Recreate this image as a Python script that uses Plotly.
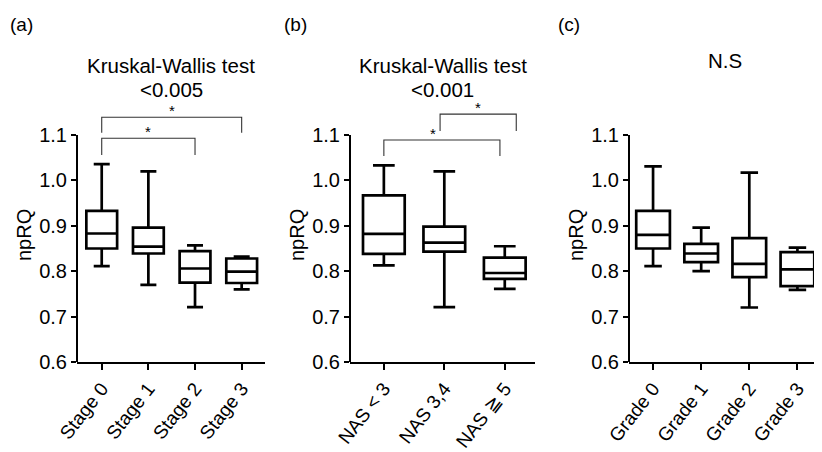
import plotly.graph_objects as go

# ---------------- data ----------------
stage_labels = ["Stage 0", "Stage 1", "Stage 2", "Stage 3"]
stage_min = [0.811, 0.770, 0.721, 0.760]
stage_q1 = [0.850, 0.839, 0.775, 0.774]
stage_med = [0.883, 0.854, 0.806, 0.799]
stage_q3 = [0.933, 0.896, 0.844, 0.828]
stage_max = [1.036, 1.020, 0.857, 0.832]

nas_labels = ["NAS < 3", "NAS 3,4", "NAS \u2267 5"]
nas_min = [0.813, 0.721, 0.761]
nas_q1 = [0.838, 0.843, 0.783]
nas_med = [0.882, 0.863, 0.796]
nas_q3 = [0.967, 0.898, 0.830]
nas_max = [1.033, 1.020, 0.855]

grade_labels = ["Grade 0", "Grade 1", "Grade 2", "Grade 3"]
grade_min = [0.811, 0.800, 0.720, 0.759]
grade_q1 = [0.850, 0.820, 0.787, 0.767]
grade_med = [0.880, 0.839, 0.816, 0.804]
grade_q3 = [0.933, 0.860, 0.873, 0.842]
grade_max = [1.031, 0.896, 1.017, 0.852]

panel_letters = ["(a)", "(b)", "(c)"]
panel_titles = [["Kruskal-Wallis test", "<0.005"], ["Kruskal-Wallis test", "<0.001"], ["N.S"]]

# significance brackets: (group A, group B, bracket height, bracket foot)
brackets_a = [("Stage 0", "Stage 3", 1.139, 1.105), ("Stage 0", "Stage 2", 1.093, 1.056)]
brackets_b = [("NAS < 3", "NAS \u2267 5", 1.089, 1.054), ("NAS 3,4", "NAS \u2267 5", 1.146, 1.109)]
brackets_c = []

y_ticks = [0.6, 0.7, 0.8, 0.9, 1.0, 1.1]

# ---------------- layout helpers ----------------
# the page body has an 8px margin, so the figure is drawn 8px smaller and
# reference pixel positions are shifted by that offset
OFF = 8
W, H = 822 - OFF, 452 - OFF
FONT = "Liberation Sans, Arial, Helvetica, sans-serif"

def px_x(p):
    return (p - OFF) / W

def px_y(p):
    return 1 - (p - OFF) / H

y_bottom_px = 362
px_per_unit = 454
y_top_val = 1.16
y_top_px = y_bottom_px - (y_top_val - 0.6) * px_per_unit

panels = [
    dict(labels=stage_labels, mn=stage_min, q1=stage_q1, med=stage_med, q3=stage_q3, mx=stage_max,
         dom=(77, 265), rng=[-0.53, 3.5], width=0.66, brackets=brackets_a, nudge={}),
    dict(labels=nas_labels, mn=nas_min, q1=nas_q1, med=nas_med, q3=nas_q3, mx=nas_max,
         dom=(350, 535), rng=[-0.56, 2.5], width=0.69, brackets=brackets_b,
         nudge={0: (0.0, -0.08, -0.14), 1: (-0.07, 0.19, 0.0)}),
    dict(labels=grade_labels, mn=grade_min, q1=grade_q1, med=grade_med, q3=grade_q3, mx=grade_max,
         dom=(629, 821), rng=[-0.5, 3.49], width=0.7, brackets=brackets_c, nudge={}),
]

fig = go.Figure()
layout = dict(
    width=W, height=H,
    margin=dict(l=0, r=0, t=0, b=0),
    paper_bgcolor="white", plot_bgcolor="white",
    showlegend=False,
    font=dict(family=FONT, size=18, color="black"),
)
annotations = []
shapes = []

for i, p in enumerate(panels):
    n = "" if i == 0 else str(i + 1)
    xa, ya = "x" + n, "y" + n
    pos = list(range(len(p["labels"])))
    fig.add_trace(go.Box(
        x=pos, q1=p["q1"], median=p["med"], q3=p["q3"],
        lowerfence=p["mn"], upperfence=p["mx"],
        xaxis=xa, yaxis=ya, width=p["width"], whiskerwidth=0.52,
        fillcolor="white", line=dict(color="black", width=2.7),
        boxpoints=False, hoverinfo="skip",
    ))
    # brackets
    for j, (ga, gb, top, foot) in enumerate(p["brackets"]):
        ia, ib = p["labels"].index(ga), p["labels"].index(gb)
        da, db, ds = p["nudge"].get(j, (0.0, 0.0, 0.0))
        xa0, xb0 = ia + da, ib + db
        fig.add_trace(go.Scatter(
            x=[xa0, xa0, xb0, xb0], y=[foot, top, top, foot],
            mode="lines", line=dict(color="#333333", width=1.1),
            xaxis=xa, yaxis=ya, hoverinfo="skip",
        ))
        annotations.append(dict(
            x=(xa0 + xb0) / 2 + ds, y=top, xref=xa, yref=ya, text="*",
            showarrow=False, yanchor="bottom", yshift=-4,
            font=dict(size=15, family=FONT, color="black"),
        ))
    x0, x1 = p["dom"]
    layout["xaxis" + n] = dict(
        domain=[px_x(x0), px_x(x1)], range=p["rng"], anchor=ya,
        tickvals=pos, ticktext=p["labels"], automargin=False,
        showline=True, linecolor="black", linewidth=2,
        ticks="outside", ticklen=6, tickwidth=2, tickcolor="black",
        tickangle=-52, showgrid=False, zeroline=False,
        tickfont=dict(size=19, family=FONT, color="black"),
        fixedrange=True,
    )
    layout["yaxis" + n] = dict(
        domain=[px_y(y_bottom_px), px_y(y_top_px)], range=[0.6, y_top_val], anchor=xa,
        showline=False, ticks="outside", ticklen=5, tickwidth=2, tickcolor="black",
        tickvals=y_ticks, ticktext=["%.1f" % v for v in y_ticks], automargin=False,
        showgrid=False, zeroline=False,
        tickfont=dict(size=20, family=FONT, color="black"),
        title=dict(text="npRQ", font=dict(size=20, family=FONT, color="black"), standoff=2),
        fixedrange=True,
    )
    # left axis line from 0.6 to 1.1 only
    shapes.append(dict(type="line", xref=xa + " domain", yref=ya, x0=0, x1=0,
                       y0=y_ticks[0], y1=y_ticks[-1], line=dict(color="black", width=2)))
    # titles (one annotation per line)
    line_y = [65, 89] if len(panel_titles[i]) > 1 else [60]
    for txt, ty in zip(panel_titles[i], line_y):
        annotations.append(dict(
            x=0.5, y=px_y(ty), xref=xa + " domain", yref="paper",
            text=txt, showarrow=False, xanchor="center", yanchor="middle",
            font=dict(size=20.5, family=FONT, color="black"),
        ))
    annotations.append(dict(
        x=px_x([8, 282, 556][i]), y=px_y(25), xref="paper", yref="paper",
        text=panel_letters[i], showarrow=False, xanchor="left", yanchor="middle",
        font=dict(size=19, family=FONT, color="black"),
    ))

layout["annotations"] = annotations
layout["shapes"] = shapes
fig.update_layout(**layout)
fig.write_html("out.html")
